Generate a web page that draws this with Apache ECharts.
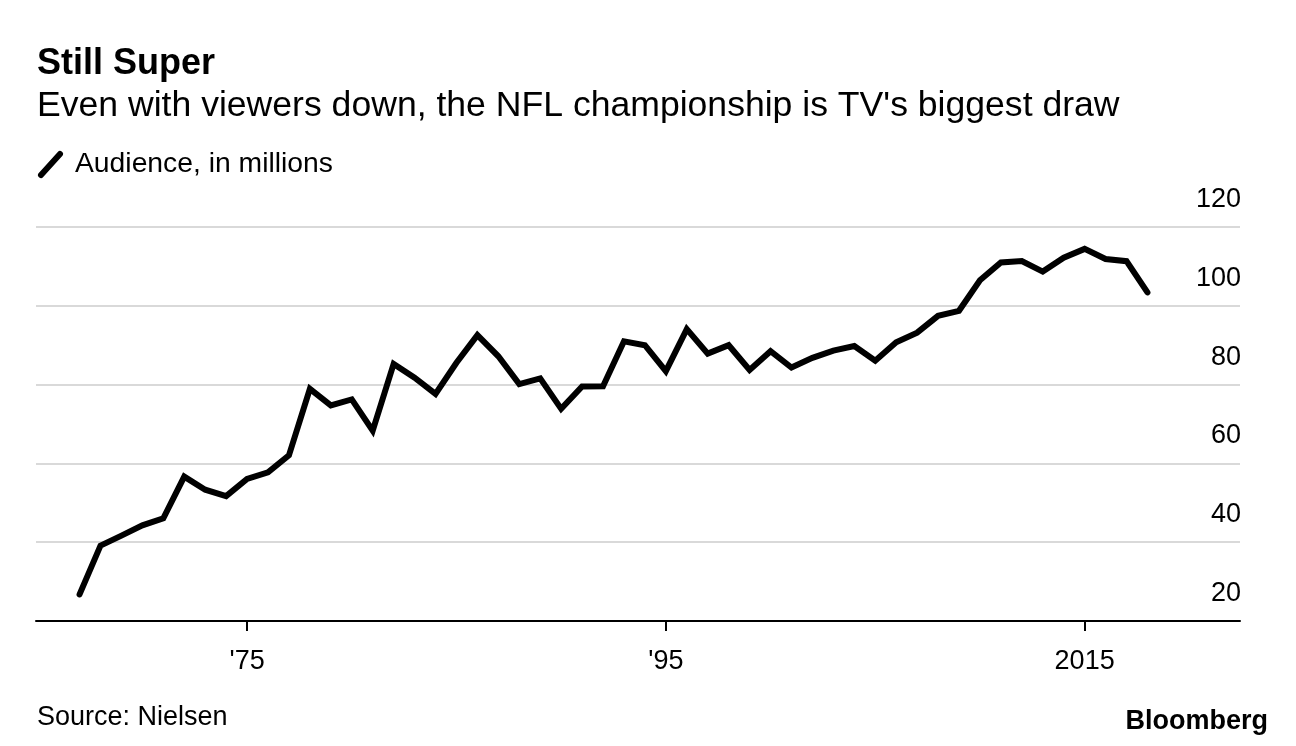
<!DOCTYPE html>
<html>
<head>
<meta charset="utf-8">
<script src="https://cdn.jsdelivr.net/npm/echarts@6/dist/echarts.min.js"></script>
<style>
html,body{margin:0;padding:0;background:#fff;}
#chart{width:1296px;height:746px;}
</style>
</head>
<body>
<div id="chart"></div>
<script>
// Super Bowl TV audience (millions), Nielsen
const years = [1967,1968,1969,1970,1971,1972,1973,1974,1975,1976,1977,1978,1979,1980,1981,1982,1983,1984,1985,1986,1987,1988,1989,1990,1991,1992,1993,1994,1995,1996,1997,1998,1999,2000,2001,2002,2003,2004,2005,2006,2007,2008,2009,2010,2011,2012,2013,2014,2015,2016,2017,2018];
const audience = [26.75,39.12,41.66,44.27,46.04,56.64,53.32,51.70,56.05,57.71,62.05,78.94,74.74,76.24,68.29,85.24,81.77,77.62,85.53,92.57,87.19,80.14,81.59,73.85,79.51,79.59,90.99,90.00,83.42,94.08,87.87,90.00,83.72,88.47,84.34,86.80,88.64,89.80,86.07,90.75,93.18,97.45,98.73,106.48,111.01,111.35,108.69,112.19,114.44,111.86,111.32,103.39];
const xTickValues = [1975, 1995, 2015];
const xTickLabels = ["'75", "'95", "2015"];
const yTicks = [20, 40, 60, 80, 100, 120];

const FONT = "'Liberation Sans', Arial, Helvetica, sans-serif";
const chart = echarts.init(document.getElementById('chart'), null, {renderer: 'canvas'});
const seriesData = years.map((y, i) => [y, audience[i]]);

chart.setOption({
  animation: false,
  backgroundColor: '#ffffff',
  grid: {left: 36, right: 56, top: 227, bottom: 125},
  xAxis: {
    type: 'value',
    min: 1964.92,
    max: 2022.42,
    axisLine: {show: true, lineStyle: {color: '#000', width: 2}},
    axisTick: {show: true, length: 10, lineStyle: {color: '#000', width: 2}, customValues: xTickValues},
    splitLine: {show: false},
    axisLabel: {
      customValues: xTickValues,
      margin: 27,
      fontFamily: FONT, fontSize: 27, color: '#000',
      formatter: v => xTickLabels[xTickValues.indexOf(v)]
    }
  },
  yAxis: {
    type: 'value',
    position: 'right',
    min: yTicks[0],
    max: yTicks[yTicks.length - 1],
    interval: 20,
    axisLine: {show: false},
    axisTick: {show: false},
    splitLine: {show: true, lineStyle: {color: '#d9d9d9', width: 2}},
    axisLabel: {
      inside: true,
      margin: -1,
      align: 'right',
      verticalAlign: 'bottom',
      lineHeight: 55,
      fontFamily: FONT, fontSize: 27, color: '#000'
    }
  },
  series: [{
    type: 'line',
    data: seriesData,
    showSymbol: false,
    lineStyle: {color: '#000', width: 6, cap: 'round', join: 'miter'},
    z: 5
  }],
  graphic: [
    {type: 'text', left: 37, top: 46, style: {text: 'Still Super', font: "bold 36px " + FONT, fill: '#000'}},
    {type: 'text', left: 37, top: 88, style: {text: "Even with viewers down, the NFL championship is TV's biggest draw", font: "35.6px " + FONT, fill: '#000'}},
    {type: 'line', shape: {x1: 41, y1: 175, x2: 60, y2: 154}, style: {stroke: '#000', lineWidth: 6, lineCap: 'round'}},
    {type: 'text', left: 75, top: 150, style: {text: 'Audience, in millions', font: "28.3px " + FONT, fill: '#000'}},
    {type: 'text', left: 37, top: 704, style: {text: 'Source: Nielsen', font: "27px " + FONT, fill: '#000'}},
    {type: 'text', right: 28, top: 708, style: {text: 'Bloomberg', font: "bold 27px " + FONT, fill: '#000'}}
  ]
});
</script>
</body>
</html>
